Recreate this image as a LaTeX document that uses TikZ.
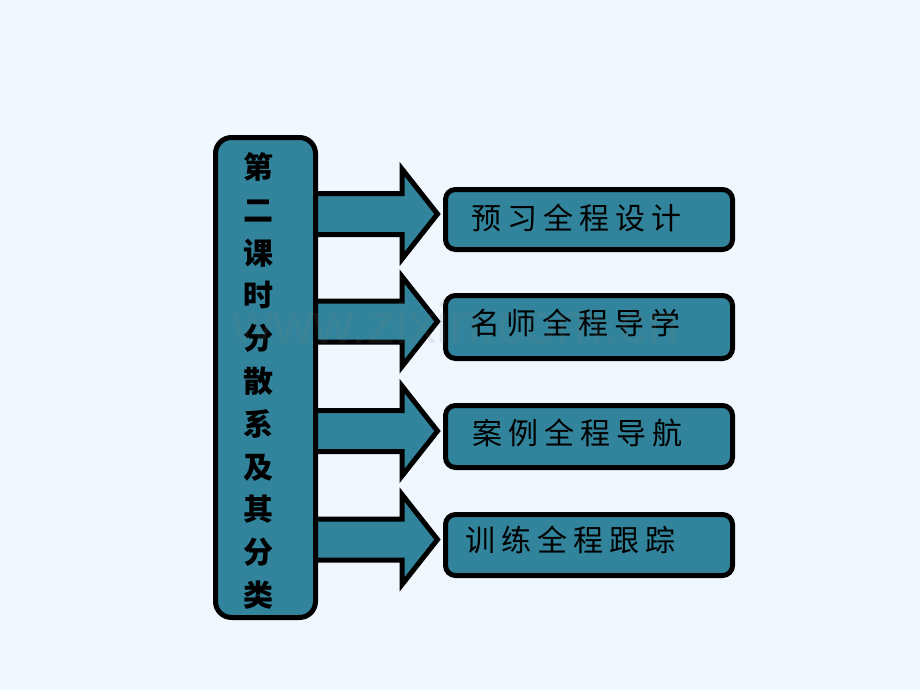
\documentclass[tikz,border=0pt]{standalone}
\usepackage{fontspec}
\usetikzlibrary{calc,backgrounds}
\newfontfamily\cjkbold{Noto Sans CJK SC}
\newfontfamily\cjkspaced{Noto Sans CJK SC}[LetterSpace=20]
\newfontfamily\wmfont{Liberation Sans}
\definecolor{bgcol}{HTML}{F0F7FF}
\definecolor{teal}{HTML}{31849B}
\tikzset{
  leftbox/.style={draw=black, line width=5pt, fill=teal, rounded corners=16pt,
    minimum width=100pt, minimum height=480pt, inner sep=0pt},
  rightbox/.style={draw=black, line width=5pt, fill=teal, rounded corners=10pt,
    minimum width=287pt, inner sep=0pt},
  bigarrow/.style={draw=black, line width=5pt, fill=teal, line join=miter},
  vtext/.style={inner sep=0pt, align=center, font=\fontsize{30pt}{42.8pt}\selectfont\cjkbold\bfseries},
  rtext/.style={inner sep=0pt, anchor=west, font=\fontsize{30pt}{32pt}\selectfont\cjkspaced},
  wmark/.style={inner sep=0pt, anchor=base west, text=gray, opacity=0.13,
    font=\fontsize{56.6pt}{60pt}\selectfont\wmfont}
}
\begin{document}
\begin{tikzpicture}[x=1pt, y=-1pt]
\useasboundingbox (0,0) rectangle (920,690);
% main boxes
\node[leftbox] (L) at (265.5,377.5) {};
\node[vtext] (Ltxt) at (258,381) {第\\二\\课\\时\\分\\散\\系\\及\\其\\分\\类};
\node[rightbox, minimum height=60pt] (B1) at (589,219.5) {};
\node[rightbox, minimum height=63pt] (B2) at (589,327) {};
\node[rightbox, minimum height=62pt] (B3) at (589,436.5) {};
\node[rightbox, minimum height=61pt] (B4) at (589,545) {};
\node[rtext] (T1txt) at (471,218) {预习全程设计};
\node[rtext] (T2txt) at (470,323) {名师全程导学};
\node[rtext] (T3txt) at (472,433) {案例全程导航};
\node[rtext] (T4txt) at (465,540) {训练全程跟踪};
% tips of the arrows
\foreach \i in {1,...,4} {
  \coordinate (Tip\i) at ($(B\i.west)+(-5.5,-5.5)$);
}
\begin{scope}[on background layer]
\fill[bgcol] (0,0) rectangle (920,690);
\foreach \i in {1,...,4} {
  \draw[bigarrow]
    ($(L.east|-Tip\i)+(-3,-20.5)$) -- ($(Tip\i)+(-35.5,-20.5)$)
    -- ($(Tip\i)+(-35.5,-45)$) -- (Tip\i)
    -- ($(Tip\i)+(-35.5,45)$) -- ($(Tip\i)+(-35.5,20.5)$)
    -- ($(L.east|-Tip\i)+(-3,20.5)$) -- cycle;
}
\end{scope}
\node[wmark] (wm) at (232,343) {www.zixin.com.cn};
\end{tikzpicture}
\end{document}
